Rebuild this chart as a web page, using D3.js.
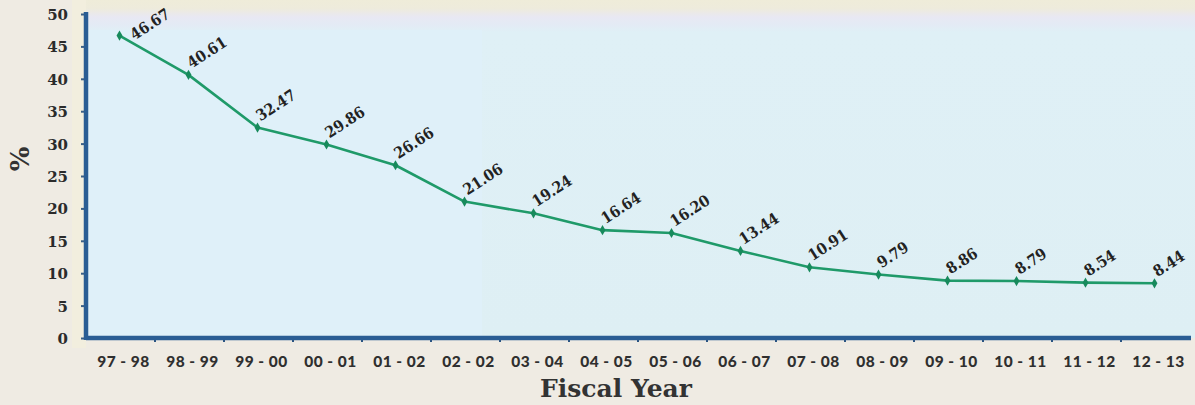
<!DOCTYPE html>
<html>
<head>
<meta charset="utf-8">
<script src="https://cdn.jsdelivr.net/npm/d3@7"></script>
<style>
  html, body { margin: 0; padding: 0; background: #efebe3; }
  svg { display: block; }
</style>
</head>
<body>
<svg id="chart" width="1195" height="405"></svg>
<script>
// Fiscal years and their percentage values
const fiscalYears = ["97 - 98", "98 - 99", "99 - 00", "00 - 01", "01 - 02", "02 - 02", "03 - 04", "04 - 05",
                     "05 - 06", "06 - 07", "07 - 08", "08 - 09", "09 - 10", "10 - 11", "11 - 12", "12 - 13"];
const percentValues = [46.67, 40.61, 32.47, 29.86, 26.66, 21.06, 19.24, 16.64,
                       16.20, 13.44, 10.91, 9.79, 8.86, 8.79, 8.54, 8.44];
const yTickValues = [0, 5, 10, 15, 20, 25, 30, 35, 40, 45, 50];

(function () {
const W = 1195, H = 405;
const mLeft = 86, mRight = 1190, mTop = 14, mBottom = 338;
const serif = "'DejaVu Serif', serif";

const svg = d3.select("#chart");

// background gradient for the plot panel (warm tint fading into pale blue at the top)
const defs = svg.append("defs");
const grad = defs.append("linearGradient").attr("id", "panelGrad")
  .attr("x1", 0).attr("y1", 0).attr("x2", 0).attr("y2", 1);
grad.append("stop").attr("offset", "0").attr("stop-color", "#efecd9");
grad.append("stop").attr("offset", "0.025").attr("stop-color", "#eeebdc");
grad.append("stop").attr("offset", "0.05").attr("stop-color", "#e8e8f3");
grad.append("stop").attr("offset", "0.075").attr("stop-color", "#e3ebf5");
grad.append("stop").attr("offset", "0.095").attr("stop-color", "#dff0f6");
grad.append("stop").attr("offset", "1").attr("stop-color", "#deeff4");

svg.append("rect").attr("x", mLeft).attr("y", 0)
  .attr("width", W - mLeft).attr("height", mBottom)
  .attr("fill", "url(#panelGrad)");

// slightly cooler blue on the left part of the panel
svg.append("rect").attr("x", mLeft).attr("y", 30)
  .attr("width", 396).attr("height", mBottom - 30)
  .attr("fill", "#dff0f9");

// faint warm strip just left of the value axis
svg.append("rect").attr("x", mLeft - 14).attr("y", 0)
  .attr("width", 14).attr("height", mBottom + 10)
  .attr("fill", "#f3efdc").attr("opacity", 0.7);

const x = d3.scaleBand().domain(fiscalYears).range([mLeft, mRight]);
const y = d3.scaleLinear().domain([0, 50]).range([mBottom, mTop]);

// Y axis
const yAxis = svg.append("g").attr("transform", `translate(${mLeft},0)`)
  .call(d3.axisLeft(y).tickValues(yTickValues).tickSize(5).tickPadding(13));
yAxis.select(".domain").remove();
yAxis.selectAll(".tick line").attr("stroke", "#3b5f86").attr("stroke-width", 2);
yAxis.selectAll(".tick text")
  .attr("fill", "#2b2b2b")
  .attr("font-family", serif)
  .attr("font-weight", "bold")
  .attr("font-size", 15)
  .attr("dy", "0.36em");

// X axis with ticks on the band boundaries
const xAxis = svg.append("g").attr("transform", `translate(0,${mBottom})`)
  .call(d3.axisBottom(x).tickSize(0).tickPadding(18));
xAxis.select(".domain").remove();
xAxis.selectAll(".tick text")
  .attr("fill", "#2f2f2f")
  .attr("font-family", "Lato, 'Open Sans', sans-serif")
  .attr("font-weight", 900)
  .attr("font-size", 15.5)
  .attr("letter-spacing", "0.5px")
  .attr("dx", 3);

svg.append("g").selectAll("line")
  .data(fiscalYears.slice(1))
  .join("line")
  .attr("x1", d => x(d)).attr("x2", d => x(d))
  .attr("y1", mBottom).attr("y2", mBottom + 4)
  .attr("stroke", "#2b5480").attr("stroke-width", 2);

// thick axis lines
svg.append("line").attr("x1", mLeft).attr("x2", mRight + 1)
  .attr("y1", mBottom).attr("y2", mBottom)
  .attr("stroke", "#2a5d94").attr("stroke-width", 4.5);
svg.append("line").attr("x1", mLeft).attr("x2", mLeft)
  .attr("y1", mTop - 2).attr("y2", mBottom + 2)
  .attr("stroke", "#2a5d94").attr("stroke-width", 4.5);

// data line
const cx = d => x(d) + x.bandwidth() / 2 - 1;
const line = d3.line().x((d, i) => cx(fiscalYears[i])).y(d => y(d));
svg.append("path").datum(percentValues)
  .attr("d", line)
  .attr("fill", "none")
  .attr("stroke", "#1f9a69")
  .attr("stroke-width", 2.6)
  .attr("stroke-linejoin", "round");

// markers
svg.append("g").selectAll("path")
  .data(percentValues)
  .join("path")
  .attr("transform", (d, i) => `translate(${cx(fiscalYears[i])},${y(d)})`)
  .attr("d", d3.symbol(d3.symbolDiamond, 30))
  .attr("fill", "#178a5c");

// value labels, rotated; a label near the top edge is pushed right and down
svg.append("g").selectAll("text")
  .data(percentValues)
  .join("text")
  .attr("transform", (d, i) => {
    let px = cx(fiscalYears[i]) + 3, py = y(d) - 6;
    if (y(d) < 45) { px += 12; py += 11; }
    return `translate(${px},${py}) rotate(-33)`;
  })
  .attr("font-family", serif)
  .attr("font-stretch", "condensed")
  .attr("font-weight", "bold")
  .attr("font-size", 15.5)
  .attr("fill", "#222")
  .text(d => d.toFixed(2));

// axis titles
svg.append("text")
  .attr("x", 616).attr("y", 397)
  .attr("text-anchor", "middle")
  .attr("font-family", serif)
  .attr("font-weight", "bold")
  .attr("font-size", 25)
  .attr("fill", "#333")
  .text("Fiscal Year");

svg.append("text")
  .attr("transform", "translate(29,159) rotate(-90)")
  .attr("text-anchor", "middle")
  .attr("font-family", serif)
  .attr("font-weight", "bold")
  .attr("font-size", 26)
  .attr("fill", "#333")
  .text("%");
})();
</script>
</body>
</html>
